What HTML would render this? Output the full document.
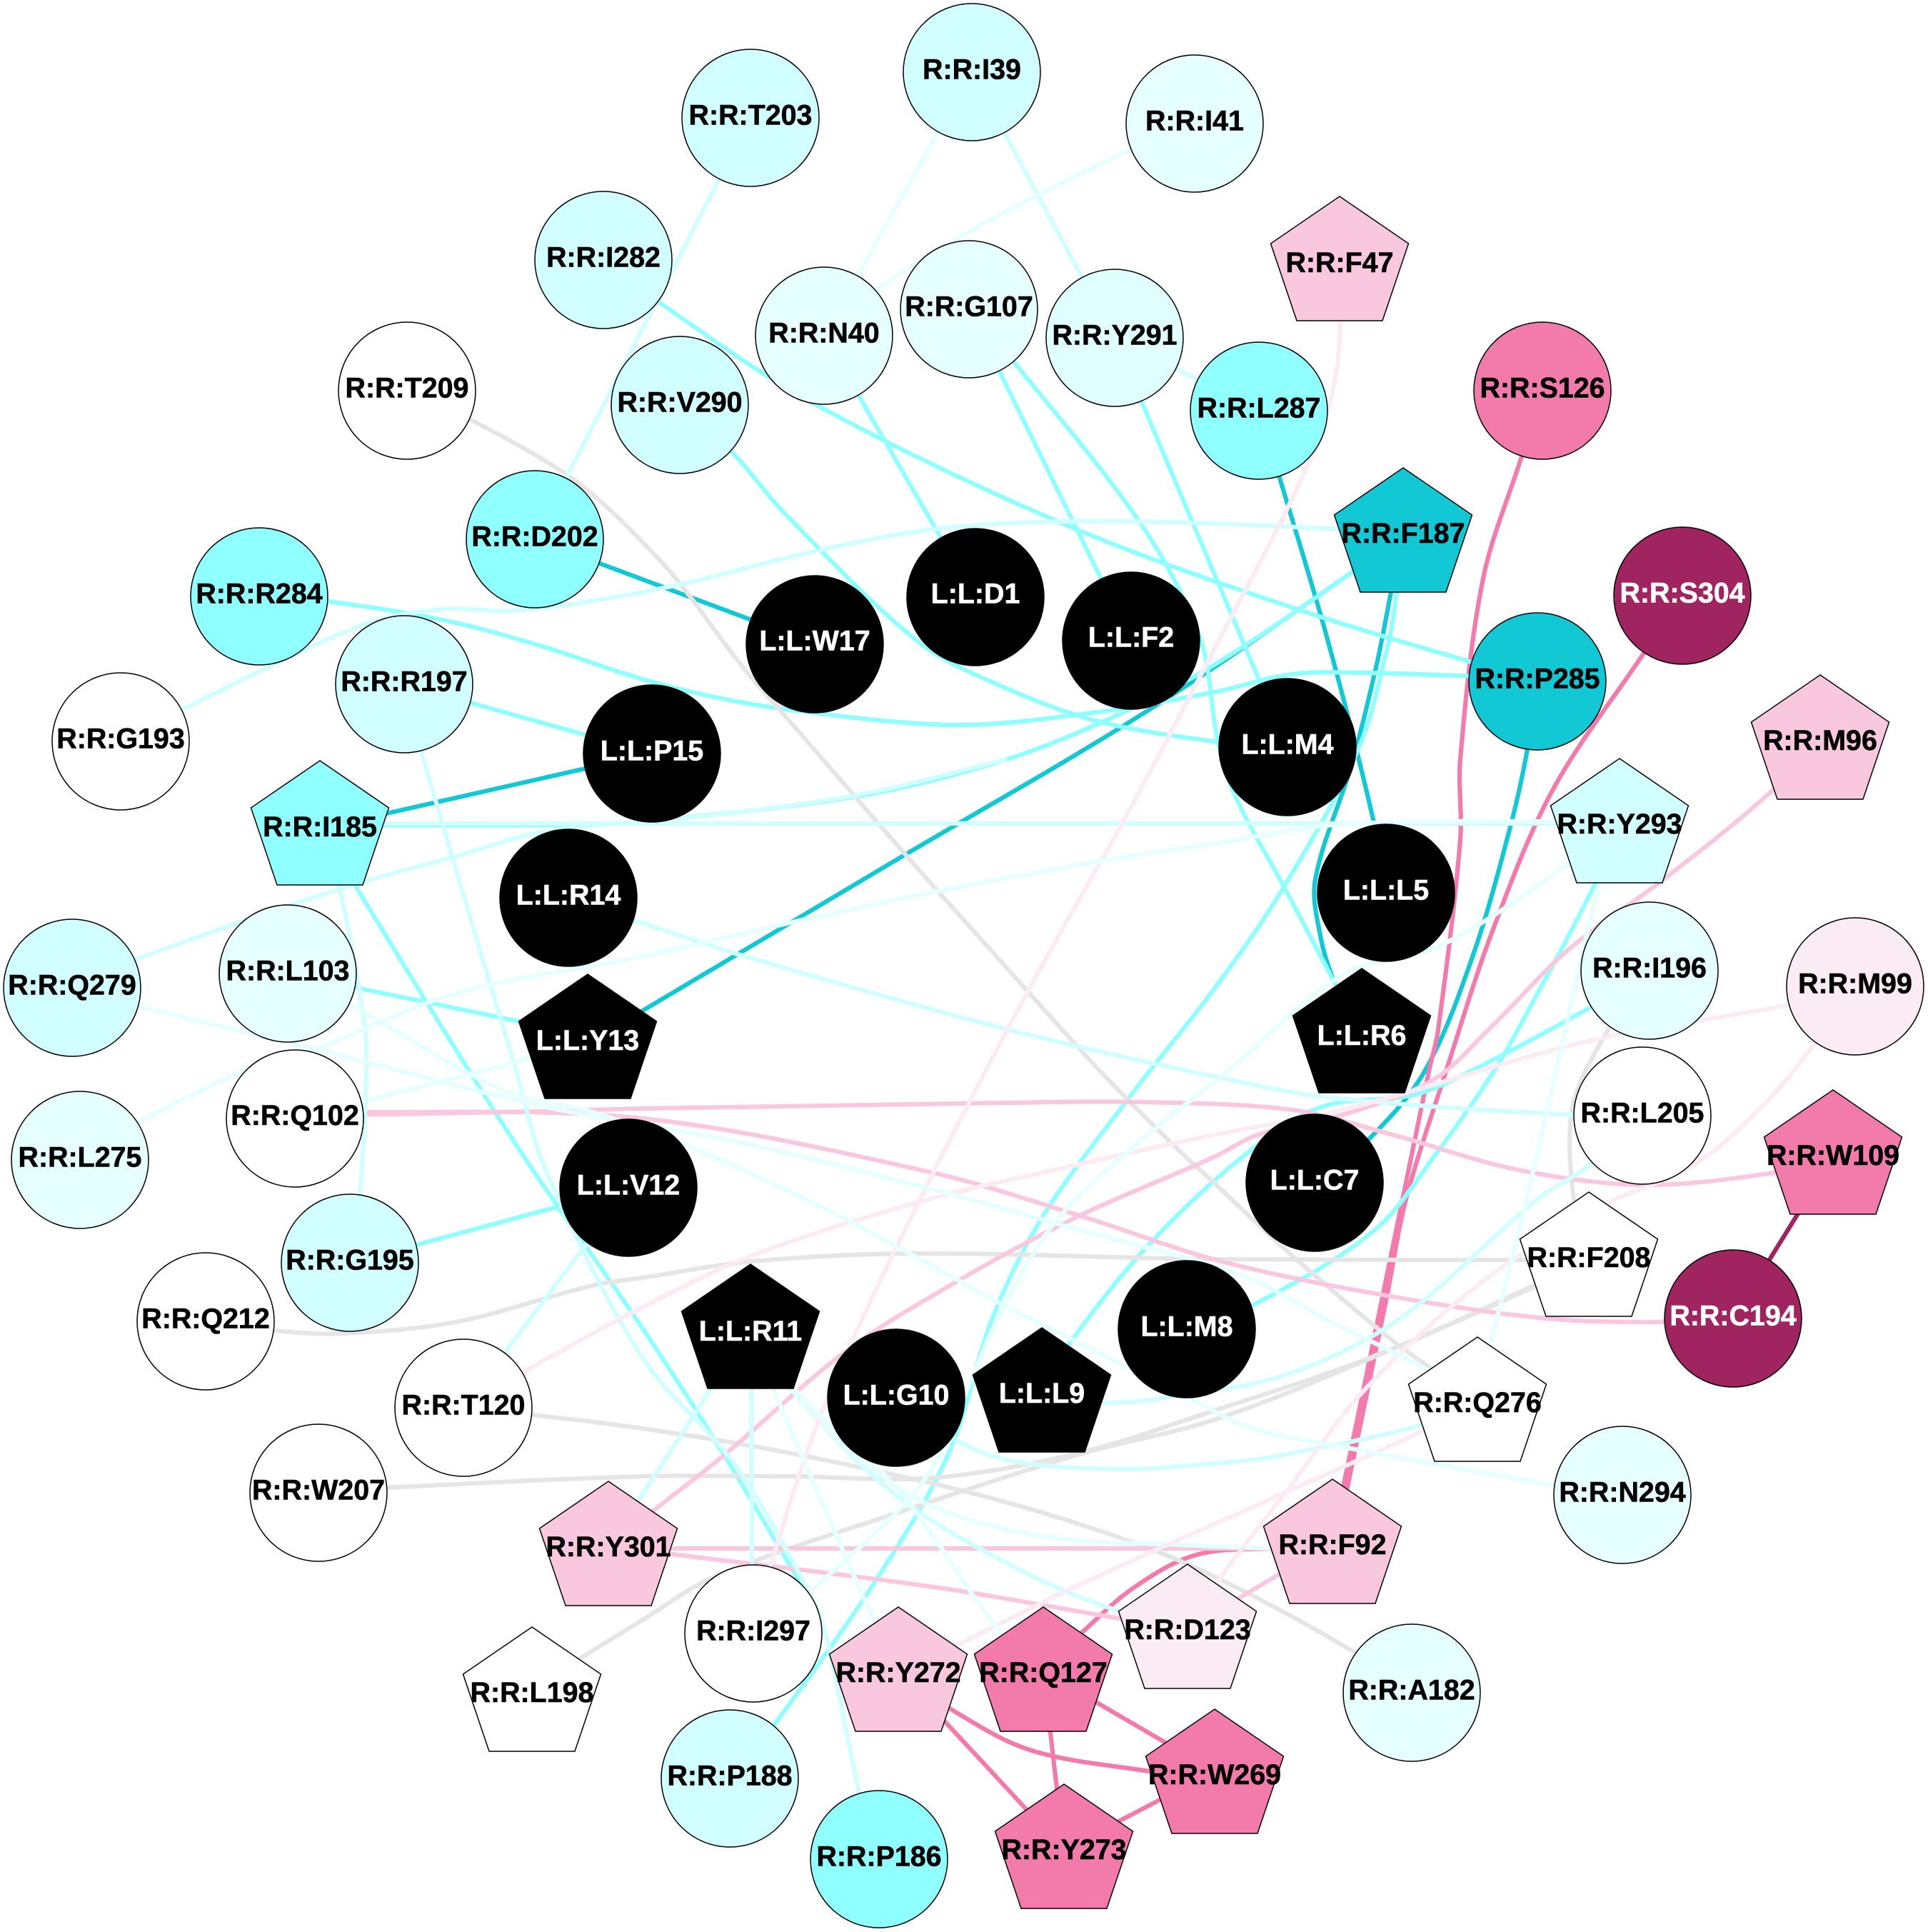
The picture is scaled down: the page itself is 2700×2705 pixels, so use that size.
<!DOCTYPE html>
<html><head><meta charset="utf-8"><title>Interaction network</title>
<style>
html,body{margin:0;padding:0;background:#fff}
svg{display:block}
polyline,path{fill:none;stroke-width:6.2;stroke-linejoin:round;stroke-linecap:butt}
.k{stroke:#11c8d4}.a{stroke:#8fffff}.b{stroke:#d1ffff}.c{stroke:#e6ffff}
.p{stroke:#f37bac}.q{stroke:#f9c8de}.r{stroke:#fbecf4}.g{stroke:#e5e5e5}.m{stroke:#a0245f}
circle,use{stroke:#000;stroke-width:1.5}
text{font:bold 39.4px "Liberation Sans",Arial,sans-serif;text-anchor:middle;fill:#000;stroke:#000;stroke-width:.6}
text.w{fill:#fff;stroke:#fff}
</style></head><body>
<svg xmlns="http://www.w3.org/2000/svg" width="2700" height="2705" viewBox="0 0 2700 2705">
<defs><polygon id="pt" points="0,0 96.5,66 60,174 -60,174 -96.5,66"/></defs>
<rect width="2700" height="2705" fill="#fff"/>
<g id="edges">
<polyline class="m" points="2567,1620 2427,1846"/>
<polyline class="k" points="749,755 1141,901"/>
<polyline class="k" points="448,1160 913,1055"/>
<polyline class="k" points="823,1462 900,1415 1250,1207 1604,997 1895,800 1965,745"/>
<polyline class="k" points="1763,575 1792,669 1859,895 1923,1147 1941,1250"/>
<polyline class="k" points="1965,745 1948,829 1928,930 1893,1070 1842,1231 1849,1310 1870,1378 1907,1446"/>
<polyline class="k" points="2153,954 2139,1049 2116,1154 2063,1337 1995,1500 1916,1596 1841,1656"/>
<polyline class="p" points="2160,547 2130,642 2077,810 2045,1063 2045,1175 2014,1442 2001,1500 1936,1816 1880,2087 1863,2160"/>
<polyline class="p" points="2356,834 2301,916 2175,1105 2091,1301 2025,1500 1969,1679 1942,1816 1886,2087 1869,2160"/>
<polyline class="p" points="1461,2340 1515,2286 1589,2222 1675,2177 1780,2168 1866,2168"/>
<polyline class="p" points="1461,2340 1701,2480"/>
<polyline class="p" points="1461,2340 1490,2590"/>
<polyline class="p" points="1258,2340 1330,2392 1442,2450 1603,2479 1701,2490"/>
<polyline class="p" points="1258,2340 1490,2590"/>
<polyline class="p" points="1701,2480 1490,2590"/>
<polyline class="a" points="1154,470 1365,835"/>
<polyline class="a" points="1357,433 1585,898"/>
<polyline class="a" points="1561,473 1803,1046"/>
<polyline class="a" points="1357,433 1421,508 1600,737 1681,895 1705,1035 1730,1115 1800,1245 1870,1378 1907,1446"/>
<polyline class="a" points="845,364 921,422 1136,563 1493,735 1823,855 2153,954"/>
<polyline class="a" points="952,567 1027,635 1100,720 1288,900 1410,964 1538,1010 1700,1038 1803,1046"/>
<polyline class="a" points="363,835 459,842 620,868 753,903 887,947 987,973 1100,993 1334,1015 1522,999 1700,969 1810,944 1909,942 2153,950"/>
<polyline class="a" points="566,958 913,1055"/>
<polyline class="a" points="448,1155 765,1155 900,1150 1206,1114 1410,1063 1563,1002 1700,931 1895,800 1965,745"/>
<polyline class="a" points="403,1363 823,1450"/>
<polyline class="a" points="490,1768 880,1663"/>
<polyline class="a" points="448,1155 500,1244 721,1600 900,1860 1012,2034 1124,2222 1140,2250"/>
<polyline class="a" points="1965,745 1956,829 1944,902 1902,1049 1796,1245 1700,1385 1584,1533 1461,1702 1390,1845 1329,2034 1227,2212 1084,2415 1022,2490"/>
<polyline class="a" points="2268,1150 2235,1235 2133,1428 2092,1500 2010,1617 1923,1724 1755,1827 1663,1861"/>
<polyline class="a" points="2310,1359 2228,1410 2049,1505 1979,1533 1847,1551 1730,1628 1604,1748 1500,1878 1459,1950"/>
<polyline class="g" points="570,547 658,587 787,660 853,713 920,780 957,823 1037,930 1100,1003 1272,1201 1441,1390 1541,1500 1640,1600 1700,1656 1806,1755 1944,1872 2000,1913 2069,1960"/>
<polyline class="g" points="288,1850 383,1863 478,1867 638,1851 829,1800 900,1789 1053,1766 1283,1755 1700,1763 2225,1764"/>
<polyline class="g" points="649,1971 746,1981 900,2000 1104,2034 1359,2090 1563,2151 1700,2207 1893,2311 1977,2370"/>
<polyline class="g" points="446,2090 542,2083 900,2067 1104,2067 1308,2069 1512,2034 1700,1975 1921,1900 2152,1798 2225,1760"/>
<polyline class="g" points="745,2365 816,2320 900,2268 1002,2207 1257,2118 1512,2036 1700,1988 1900,1910 2152,1800 2225,1760"/>
<polyline class="g" points="2310,1359 2252,1442 2203,1547 2203,1673 2225,1760"/>
<polyline class="q" points="2549,1030 2484,1105 2330,1231 2196,1330 2091,1435 2007,1512 1880,1561 1761,1589 1700,1620 1512,1702 1349,1789 1186,1891 1012,2039 915,2115 852,2165"/>
<polyline class="q" points="413,1562 765,1556 900,1552 1410,1544 1600,1543 1810,1554 1951,1589 2126,1638 2301,1659 2484,1642 2567,1620"/>
<polyline class="q" points="413,1562 510,1557 900,1566 1298,1640 1512,1702 1710,1766 1942,1814 2166,1846 2331,1851 2427,1846"/>
<polyline class="q" points="852,2168 1866,2168"/>
<polyline class="q" points="852,2165 941,2176 1308,2222 1568,2266 1663,2280"/>
<polyline class="q" points="1866,2160 1663,2280"/>
<polyline class="b" points="1051,165 749,755"/>
<polyline class="b" points="1361,101 1561,473"/>
<polyline class="b" points="1561,473 1763,575"/>
<polyline class="b" points="169,1038 258,992 510,874 620,853 713,855 820,843 953,818 1153,769 1314,740 1493,730 1671,732 1965,745"/>
<polyline class="b" points="448,1153 2268,1153"/>
<polyline class="b" points="101,1383 191,1343 478,1244 638,1199 765,1164 1000,1141 1206,1112 1410,1063"/>
<polyline class="b" points="448,1155 475,1241 510,1429 513,1500 504,1672 490,1768"/>
<polyline class="b" points="566,958 590,1053 721,1493 765,1640 900,1901 1028,2049 1124,2212 1155,2284 1203,2508 1231,2603"/>
<polyline class="b" points="796,1257 890,1289 1043,1339 1410,1441 1700,1507 1857,1536 2199,1561 2300,1562"/>
<polyline class="b" points="1052,1860 1053,2287"/>
<polyline class="b" points="649,1971 880,1663"/>
<polyline class="b" points="852,2165 1051,1860"/>
<polyline class="b" points="1051,1860 1114,1952 1257,2095 1436,2202 1573,2258 1663,2280"/>
<polyline class="c" points="1051,1860 1114,1950 1206,2044 1308,2110 1461,2151 1653,2163 1866,2170"/>
<polyline class="b" points="1255,1957 1334,2013 1410,2044 1563,2057 1700,2049 1780,2040 1991,1995 2069,1960"/>
<polyline class="b" points="1459,1950 1546,1964 1653,1954 1806,1923 1959,1847 2153,1679 2224,1633 2300,1562"/>
<polyline class="r" points="1876,360 1872,517 1832,649 1700,910 1573,1150 1441,1385 1278,1700 1155,1967 1079,2192 1055,2287"/>
<polyline class="r" points="649,1971 733,1921 900,1830 1053,1758 1283,1684 1512,1630 1700,1589 1880,1554 2231,1456 2505,1407 2598,1381"/>
<polyline class="r" points="2598,1381 2540,1463 2470,1547 2372,1631 2240,1690 2061,1806 1908,1949 1806,2082 1709,2209 1663,2280"/>
<polyline class="r" points="1258,2340 1339,2304 1500,2224 1806,2087 1995,2002 2069,1960"/>
<polyline class="c" points="1361,101 1154,470"/>
<polyline class="c" points="1673,173 1578,212 1448,276 1332,339 1229,405 1154,470"/>
<polyline class="c" points="112,1624 198,1569 357,1493 446,1467 638,1391 900,1339 1124,1288 1318,1247 1538,1206 1700,1181 1880,1154 2268,1150"/>
<polyline class="c" points="413,1566 513,1541 746,1480 823,1450"/>
<polyline class="c" points="101,1383 195,1409 446,1470 765,1550 1038,1600 1308,1666 1512,1722 1740,1786 1857,1847 1990,1913 2069,1960"/>
<polyline class="c" points="403,1363 497,1410 701,1525 829,1557 951,1599 1170,1700 1410,1830 1461,1855 1668,1959 1755,2000 1908,2031 2173,2079 2272,2093"/>
<polyline class="c" points="2268,1150 2240,1235 2179,1500 2133,1700 2087,1883 2069,1960"/>
<polyline class="c" points="1055,2287 1135,2228 1293,2074 1354,1947 1400,1840 1477,1712 1589,1604 1719,1500 1880,1365 2021,1322 2196,1210 2268,1150"/>
<polyline class="c" points="1051,1860 1084,1947 1221,2263 1258,2340"/>
<polyline class="c" points="1051,1860 1114,1947 1257,2085 1400,2284 1461,2340"/>
</g>
<g id="nodes">
<circle cx="1361" cy="101" r="96" fill="#d1ffff"/><text x="1361" y="110.500">R:R:I39</text>
<circle cx="1051" cy="165" r="96" fill="#d1ffff"/><text x="1051" y="174.500">R:R:T203</text>
<circle cx="1673" cy="173" r="96" fill="#e6ffff"/><text x="1673" y="182.500">R:R:I41</text>
<circle cx="845" cy="364" r="96" fill="#d1ffff"/><text x="845" y="373.500">R:R:I282</text>
<circle cx="1154" cy="470" r="96" fill="#e6ffff"/><text x="1154" y="479.500">R:R:N40</text>
<circle cx="1357" cy="433" r="96" fill="#e6ffff"/><text x="1357" y="442.500">R:R:G107</text>
<circle cx="1561" cy="473" r="96" fill="#e0ffff"/><text x="1561" y="482.500">R:R:Y291</text>
<circle cx="1763" cy="575" r="96" fill="#8fffff"/><text x="1763" y="584.500">R:R:L287</text>
<circle cx="952" cy="567" r="96" fill="#d1ffff"/><text x="952" y="576.500">R:R:V290</text>
<circle cx="749" cy="755" r="96" fill="#8fffff"/><text x="749" y="764.500">R:R:D202</text>
<circle cx="570" cy="547" r="96" fill="#fff"/><text x="570" y="556.500">R:R:T209</text>
<circle cx="2160" cy="547" r="96" fill="#f37bac"/><text x="2160" y="556.500">R:R:S126</text>
<circle cx="2356" cy="834" r="96" fill="#a0245f"/><text class="w" x="2356" y="843.500">R:R:S304</text>
<circle cx="2153" cy="954" r="96" fill="#11c8d4"/><text x="2153" y="963.500">R:R:P285</text>
<circle cx="363" cy="835" r="96" fill="#8fffff"/><text x="363" y="844.500">R:R:R284</text>
<circle cx="566" cy="958" r="96" fill="#d1ffff"/><text x="566" y="967.500">R:R:R197</text>
<circle cx="169" cy="1038" r="96" fill="#fff"/><text x="169" y="1047.500">R:R:G193</text>
<circle cx="403" cy="1363" r="96" fill="#e6ffff"/><text x="403" y="1372.500">R:R:L103</text>
<circle cx="101" cy="1383" r="96" fill="#d1ffff"/><text x="101" y="1392.500">R:R:Q279</text>
<circle cx="413" cy="1566" r="96" fill="#fff"/><text x="413" y="1575">R:R:Q102</text>
<circle cx="112" cy="1624" r="96" fill="#e6ffff"/><text x="112" y="1633.500">R:R:L275</text>
<circle cx="490" cy="1768" r="96" fill="#d1ffff"/><text x="490" y="1777.500">R:R:G195</text>
<circle cx="288" cy="1850" r="96" fill="#fff"/><text x="288" y="1859.500">R:R:Q212</text>
<circle cx="649" cy="1971" r="96" fill="#fff"/><text x="649" y="1980.500">R:R:T120</text>
<circle cx="446" cy="2090" r="96" fill="#fff"/><text x="446" y="2099.500">R:R:W207</text>
<circle cx="1055" cy="2287" r="96" fill="#fff"/><text x="1055" y="2296.500">R:R:I297</text>
<circle cx="1022" cy="2490" r="96" fill="#d1ffff"/><text x="1022" y="2499.500">R:R:P188</text>
<circle cx="1231" cy="2603" r="96" fill="#8fffff"/><text x="1231" y="2612.500">R:R:P186</text>
<circle cx="1977" cy="2370" r="96" fill="#e6ffff"/><text x="1977" y="2379.500">R:R:A182</text>
<circle cx="2272" cy="2093" r="96" fill="#e6ffff"/><text x="2272" y="2102.500">R:R:N294</text>
<circle cx="2427" cy="1846" r="96" fill="#a0245f"/><text class="w" x="2427" y="1855.500">R:R:C194</text>
<circle cx="2300" cy="1562" r="96" fill="#fff"/><text x="2300" y="1571.500">R:R:L205</text>
<circle cx="2310" cy="1359" r="96" fill="#e6ffff"/><text x="2310" y="1368.500">R:R:I196</text>
<circle cx="2598" cy="1381" r="96" fill="#fbecf4"/><text x="2598" y="1390.500">R:R:M99</text>
<circle cx="1366" cy="836" r="96" fill="#000"/><text class="w" x="1366" y="844.500">L:L:D1</text>
<circle cx="1584" cy="897" r="96" fill="#000"/><text class="w" x="1584" y="905.500">L:L:F2</text>
<circle cx="1141" cy="902" r="96" fill="#000"/><text class="w" x="1141" y="910.500">L:L:W17</text>
<circle cx="913" cy="1055" r="96" fill="#000"/><text class="w" x="913" y="1064.500">L:L:P15</text>
<circle cx="796" cy="1257" r="96" fill="#000"/><text class="w" x="796" y="1266.500">L:L:R14</text>
<circle cx="1803" cy="1046" r="96" fill="#000"/><text class="w" x="1803" y="1055.500">L:L:M4</text>
<circle cx="1941" cy="1250" r="96" fill="#000"/><text class="w" x="1941" y="1259.500">L:L:L5</text>
<circle cx="1841" cy="1656" r="96" fill="#000"/><text class="w" x="1841" y="1665.500">L:L:C7</text>
<circle cx="1662" cy="1861" r="96" fill="#000"/><text class="w" x="1662" y="1870.500">L:L:M8</text>
<circle cx="1255" cy="1957" r="96" fill="#000"/><text class="w" x="1255" y="1966.500">L:L:G10</text>
<circle cx="880" cy="1663" r="96" fill="#000"/><text class="w" x="880" y="1672.500">L:L:V12</text>
<use href="#pt" x="1876" y="275" fill="#f9c8de"/><text x="1876" y="381">R:R:F47</text>
<use href="#pt" x="1965" y="655" fill="#11c8d4"/><text x="1965" y="760">R:R:F187</text>
<use href="#pt" x="2549" y="945" fill="#f9c8de"/><text x="2549" y="1050">R:R:M96</text>
<use href="#pt" x="2268" y="1062" fill="#d1ffff"/><text x="2268" y="1167">R:R:Y293</text>
<use href="#pt" x="2567" y="1526" fill="#f37bac"/><text x="2567" y="1631">R:R:W109</text>
<use href="#pt" x="448" y="1065" fill="#8fffff"/><text x="448" y="1171">R:R:I185</text>
<use href="#pt" x="823" y="1364" fill="#000"/><text class="w" x="823" y="1470">L:L:Y13</text>
<use href="#pt" x="1907" y="1356" fill="#000"/><text class="w" x="1907" y="1463">L:L:R6</text>
<use href="#pt" x="1051" y="1770" fill="#000"/><text class="w" x="1051" y="1877">L:L:R11</text>
<use href="#pt" x="1459" y="1859" fill="#000"/><text class="w" x="1459" y="1964">L:L:L9</text>
<use href="#pt" x="2225" y="1669" fill="#fff"/><text x="2225" y="1774">R:R:F208</text>
<use href="#pt" x="2069" y="1872" fill="#fff"/><text x="2069" y="1977">R:R:Q276</text>
<use href="#pt" x="1866" y="2071" fill="#f9c8de"/><text x="1866" y="2176">R:R:F92</text>
<use href="#pt" x="1663" y="2190" fill="#fbecf4"/><text x="1663" y="2295">R:R:D123</text>
<use href="#pt" x="1701" y="2393" fill="#f37bac"/><text x="1701" y="2498">R:R:W269</text>
<use href="#pt" x="852" y="2074" fill="#f9c8de"/><text x="852" y="2179">R:R:Y301</text>
<use href="#pt" x="1258" y="2250" fill="#f9c8de"/><text x="1258" y="2355">R:R:Y272</text>
<use href="#pt" x="1461" y="2250" fill="#f37bac"/><text x="1461" y="2355">R:R:Q127</text>
<use href="#pt" x="745" y="2278" fill="#fff"/><text x="745" y="2383">R:R:L198</text>
<use href="#pt" x="1490" y="2498" fill="#f37bac"/><text x="1490" y="2603">R:R:Y273</text>
</g>
</svg>
<script>
document.querySelectorAll('#edges polyline').forEach(function(e){
  var v=e.getAttribute('points').trim().split(/\s+/).map(function(s){return s.split(',').map(Number)});
  var d='M'+v[0].join(' ');
  for(var i=0;i<v.length-1;i++){
    var a=v[Math.max(i-1,0)],b=v[i],c=v[i+1],f=v[Math.min(i+2,v.length-1)];
    var l=Math.hypot(c[0]-b[0],c[1]-b[1]);
    var la=Math.hypot(c[0]-a[0],c[1]-a[1])||1, lf=Math.hypot(f[0]-b[0],f[1]-b[1])||1;
    var c1=[b[0]+(c[0]-a[0])/la*l/3,b[1]+(c[1]-a[1])/la*l/3];
    var c2=[c[0]-(f[0]-b[0])/lf*l/3,c[1]-(f[1]-b[1])/lf*l/3];
    d+='C'+c1[0].toFixed(1)+' '+c1[1].toFixed(1)+' '+c2[0].toFixed(1)+' '+c2[1].toFixed(1)+' '+c[0]+' '+c[1];
  }
  var p=document.createElementNS('http://www.w3.org/2000/svg','path');
  p.setAttribute('class',e.getAttribute('class'));
  p.setAttribute('d',d);
  e.parentNode.replaceChild(p,e);
});
</script>
</body></html>
